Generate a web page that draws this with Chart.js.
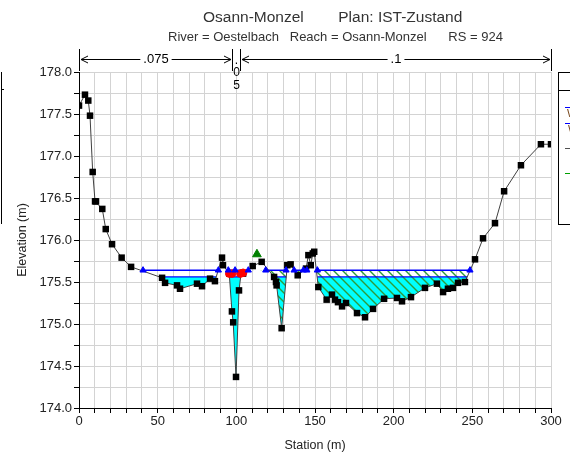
<!DOCTYPE html>
<html><head><meta charset="utf-8">
<script src="https://cdn.jsdelivr.net/npm/chart.js@4/dist/chart.umd.min.js"></script>
<style>html,body{margin:0;padding:0;background:#fff;}canvas{display:block;}</style>
</head><body>
<canvas id="c" width="570" height="452"></canvas>
<script>
// ---- data ----
const titleText = 'Osann-Monzel        Plan: IST-Zustand';
const subtitleText = 'River = Oestelbach   Reach = Osann-Monzel      RS = 924';
const groundStation = [0,3.8,5.9,7.0,8.7,10.2,10.8,14.8,17.0,21.0,27.1,33.1,52.8,54.7,62.3,64.2,75,78.2,83.3,86.4,90.9,91.5,95.5,97.2,98,99.8,101.7,103,104.3,110.4,116.1,124,125.2,125.6,128.8,132.4,134.5,139,144.3,145.8,147.3,148.6,149.5,152.1,157.4,160.8,162.7,164.6,167.2,169.7,176.7,181.8,186.9,193.9,202.1,205.3,211,219.9,227.5,231.4,234.5,237.7,240.9,245.3,251.7,256.8,264.4,270.2,280.9,293.6,300];
const groundElev = [177.60,177.73,177.66,177.48,176.81,176.46,176.46,176.37,176.13,175.95,175.79,175.68,175.55,175.49,175.46,175.42,175.48,175.45,175.54,175.51,175.79,175.70,175.60,175.15,175.02,174.37,175.40,175.60,175.60,175.69,175.74,175.56,175.50,175.46,174.95,175.70,175.71,175.58,175.66,175.82,175.70,175.84,175.86,175.44,175.29,175.35,175.29,175.26,175.21,175.25,175.13,175.08,175.18,175.30,175.31,175.27,175.32,175.43,175.48,175.38,175.42,175.43,175.49,175.50,175.77,176.02,176.20,176.58,176.89,177.14,177.14];
const ws1Level = 175.64;
const ws2Level = 175.56;
const ws1Segments = [[40.7,88.6],[94.9,107.6],[118.7,131.6],[136.7,142.6],[151.5,248.5]];
const ws2Segments = [[51.3,87.2],[95.7,102.7],[124,131.7],[151.4,246.7]];
const wsMarkerStations = [40.7,88.6,94.9,99.2,107.6,118.7,131.6,136.7,142.6,144.8,151.5,248.5];
const bankStations = [95.5,97.3,102.6,104.3];
const bankElev = [175.60,175.60,175.60,175.61];
const ineffMarkStation = [113.1];
const ineffMarkElev = [175.83];
const ineffRange = [110,252];
const nBreaks = [0,97.3,102.6,300];
const nValues = ['.075','.05','.1'];
const legendLabels = ['WS PF 1','WS PF 2','Ground','Ineff'];
const legendColors = ['#0000ff','#0000ff','#505050','#00a000'];

// ---- build library data ----
const groundPts = groundStation.map((s,i)=>({x:s,y:groundElev[i]}));
function segData(segs, lvl){
  const out=[];
  segs.forEach(([a,b])=>{out.push({x:a,y:lvl},{x:b,y:lvl},{x:b,y:null});});
  return out;
}
const FONT = '"Liberation Sans", Arial, sans-serif';
const canvas = document.getElementById('c');
const ctx0 = canvas.getContext('2d');
function makeHatch(){
  const c=document.createElement('canvas'); c.width=9; c.height=9;
  const g=c.getContext('2d');
  g.strokeStyle='#2e9a3a'; g.lineWidth=1.4;
  g.beginPath();
  g.moveTo(-1,-1); g.lineTo(10,10);
  g.moveTo(-5.5,3.5); g.lineTo(5.5,14.5);
  g.moveTo(3.5,-5.5); g.lineTo(14.5,5.5);
  g.stroke();
  return ctx0.createPattern(c,'repeat');
}
const hatch = makeHatch();

const annot = {
  id:'annot',
  afterDraw(chart){
    const ctx=chart.ctx, xs=chart.scales.x;
    ctx.save();
    // titles
    ctx.fillStyle='#333'; ctx.textBaseline='middle'; ctx.textAlign='left';
    ctx.font='15.5px '+FONT;
    ctx.fillText(titleText,203,17.5);
    ctx.font='13px '+FONT;
    ctx.fillText(subtitleText,168,37);
    // manning n bars
    const yA=59.5;
    ctx.strokeStyle='#000'; ctx.fillStyle='#000'; ctx.lineWidth=1;
    const px = v=>Math.round(xs.getPixelForValue(v))+0.5;
    nBreaks.forEach(b=>{const p=px(b); ctx.beginPath(); ctx.moveTo(p,49); ctx.lineTo(p,71); ctx.stroke();});
    ctx.font='13px '+FONT; ctx.textAlign='center';
    for(let i=0;i<nValues.length;i++){
      const a=px(nBreaks[i])+1.5, b=px(nBreaks[i+1])-1.5;
      if(b-a>30){
        const mid=(a+b)/2, tw=ctx.measureText(nValues[i]).width+6;
        ctx.beginPath();
        ctx.moveTo(a,yA); ctx.lineTo(mid-tw/2,yA);
        ctx.moveTo(mid+tw/2,yA); ctx.lineTo(b,yA);
        ctx.moveTo(a+7,yA-3.5); ctx.lineTo(a,yA); ctx.lineTo(a+7,yA+3.5);
        ctx.moveTo(b-7,yA-3.5); ctx.lineTo(b,yA); ctx.lineTo(b-7,yA+3.5);
        ctx.stroke();
        ctx.fillText(nValues[i],mid,yA);
      } else {
        const mid=(a+b)/2;
        const chars=nValues[i].split('');
        ctx.font='12px '+FONT;
        chars.forEach((ch,k)=>ctx.fillText(ch,mid,yA+1+k*12.5));
        ctx.font='13px '+FONT;
      }
    }
    // legend box (cut off at the right edge)
    ctx.lineWidth=1; ctx.strokeStyle='#000';
    ctx.strokeRect(558.5,72.5,40,152);
    ctx.beginPath(); ctx.moveTo(558.5,90.5); ctx.lineTo(600,90.5); ctx.stroke();
    ctx.textAlign='left'; ctx.font='11px '+FONT;
    const rows=[107,123,148,173];
    const labelX=[567,568,576,576];
    legendLabels.forEach((t,i)=>{
      ctx.strokeStyle=legendColors[i]; ctx.lineWidth=1.2;
      ctx.beginPath(); ctx.moveTo(565,rows[i]+0.5); ctx.lineTo(600,rows[i]+0.5); ctx.stroke();
      ctx.fillStyle='#7a4a20'; ctx.fillText(t,labelX[i],rows[i]+7);
    });
    // left cut-off panel edge
    ctx.strokeStyle='#000'; ctx.lineWidth=1;
    ctx.beginPath(); ctx.moveTo(1.5,72); ctx.lineTo(1.5,224); ctx.moveTo(1.5,89.5); ctx.lineTo(4,89.5); ctx.stroke();
    ctx.restore();
  }
};

new Chart(canvas,{
  type:'line',
  data:{datasets:[
    {label:'WS PF 1',data:segData(ws1Segments,ws1Level),borderColor:'#0000ff',borderWidth:1.4,pointRadius:0,fill:false,spanGaps:false,order:7},
    {label:'WS PF 2',data:segData(ws2Segments,ws2Level),borderColor:'#0000ff',borderWidth:1.2,pointRadius:0,fill:false,spanGaps:false,order:6},
    {label:'Ground',data:groundPts,borderColor:'#404040',borderWidth:1,pointStyle:'rect',pointRadius:4.6,pointBackgroundColor:'#000',pointBorderColor:'#000',pointBorderWidth:0,
      fill:{target:{value:ws2Level},above:'rgba(0,0,0,0)',below:'#00ffff'},order:5},
    {label:'Ineff',data:groundPts.filter(p=>p.x>=ineffRange[0]&&p.x<=ineffRange[1]),borderWidth:0,borderColor:'rgba(0,0,0,0)',pointRadius:0,
      fill:{target:{value:ws1Level},above:'rgba(0,0,0,0)',below:hatch},order:4},
    {label:'Bank Sta',data:bankStations.map((s,i)=>({x:s,y:bankElev[i]})),showLine:false,pointStyle:'circle',pointRadius:3.8,pointBackgroundColor:'#ff0000',pointBorderColor:'#ff0000',order:3},
    {label:'WS marks',data:wsMarkerStations.map(s=>({x:s,y:ws1Level})),showLine:false,pointStyle:'triangle',pointRadius:3.6,pointBackgroundColor:'#0000ff',pointBorderColor:'#0000ff',pointBorderWidth:1,order:2},
    {label:'Ineff mark',data:ineffMarkStation.map((s,i)=>({x:s,y:ineffMarkElev[i]})),showLine:false,pointStyle:'triangle',pointRadius:5,pointBackgroundColor:'#008000',pointBorderColor:'#008000',order:1}
  ]},
  options:{
    responsive:false,animation:false,devicePixelRatio:1,
    layout:{padding:{top:72,right:19,left:0,bottom:0}},
    plugins:{legend:{display:false},tooltip:{enabled:false},filler:{drawTime:'beforeDatasetsDraw'}},
    scales:{
      x:{type:'linear',min:0,max:300,
        ticks:{stepSize:10,autoSkip:false,maxRotation:0,padding:1,color:'#222',font:{family:FONT,size:13},callback:v=>(v%50===0?String(v):'')},
        grid:{color:'#d3d3d3',tickColor:'#000',tickLength:5},
        border:{color:'#000'},
        title:{display:true,text:'Station (m)',color:'#222',font:{family:FONT,size:12.5},padding:{top:0,bottom:-1}},
        afterFit:s=>{s.height=44;}},
      y:{type:'linear',min:174,max:178,
        ticks:{stepSize:0.25,autoSkip:false,padding:2,color:'#222',font:{family:FONT,size:13},callback:v=>(Math.abs(v*2-Math.round(v*2))<1e-6?v.toFixed(1):'')},
        grid:{color:'#d3d3d3',tickColor:'#000',tickLength:5},
        border:{color:'#000'},
        title:{display:true,text:'Elevation (m)',color:'#222',font:{family:FONT,size:12.5},padding:{top:15,bottom:0}},
        afterFit:s=>{s.width=79;}}
    }
  },
  plugins:[annot]
});
</script>
</body></html>
